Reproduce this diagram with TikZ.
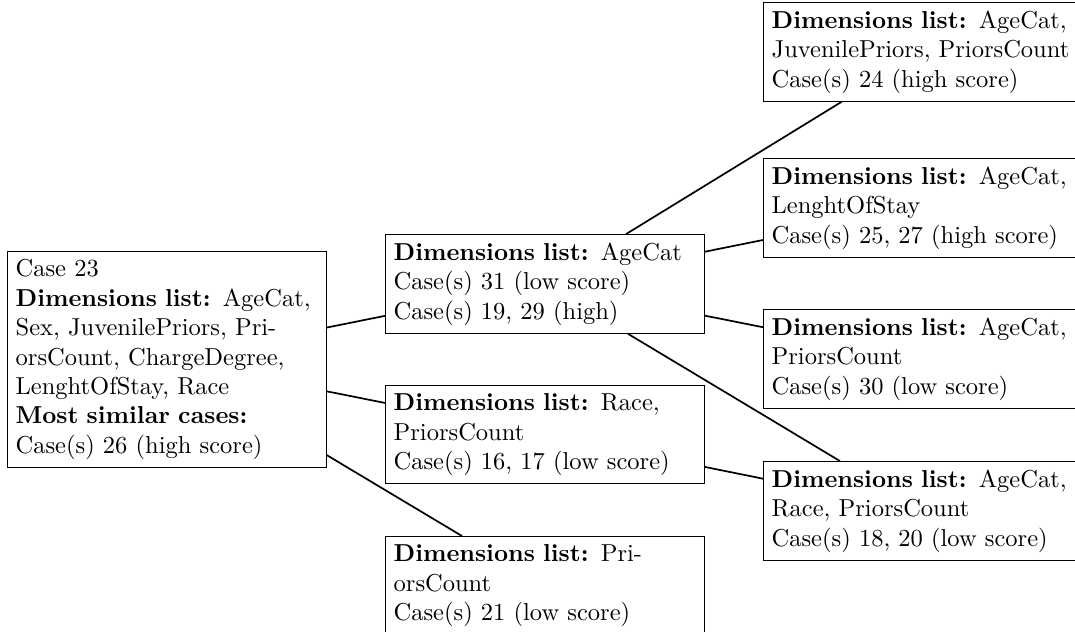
\documentclass[tikz,border=0pt]{standalone}
\begin{document}
\begin{tikzpicture}[x=0.40816pt, y=-0.40816pt,
  casebox/.style={draw, line width=0.4pt, fill=white, anchor=north west,
    text width=123.5pt, inner sep=3.33pt},
  link/.style={line width=0.7pt}]
\useasboundingbox (0,0) rectangle (1075,631);

% query case
\node[casebox] (root) at (7,251) {Case 23\\
  \textbf{Dimensions list:} AgeCat, Sex, JuvenilePriors, PriorsCount, ChargeDegree, LenghtOfStay, Race\\
  \textbf{Most similar cases:}\\
  Case(s) 26 (high score)};

% first level
\node[casebox] (m1) at (385,234) {\textbf{Dimensions list:} AgeCat\\
  Case(s) 31 (low score)\\
  Case(s) 19, 29 (high)};
\node[casebox] (m2) at (385,385) {\textbf{Dimensions list:} Race, PriorsCount\\
  Case(s) 16, 17 (low score)};
\node[casebox] (m3) at (385,536) {\textbf{Dimensions list:} PriorsCount\\
  Case(s) 21 (low score)};

% second level
\node[casebox] (r1) at (763,2) {\textbf{Dimensions list:} AgeCat, JuvenilePriors, PriorsCount\\
  Case(s) 24 (high score)};
\node[casebox] (r2) at (763,158) {\textbf{Dimensions list:} AgeCat, LenghtOfStay\\
  Case(s) 25, 27 (high score)};
\node[casebox] (r3) at (763,309) {\textbf{Dimensions list:} AgeCat, PriorsCount\\
  Case(s) 30 (low score)};
\node[casebox] (r4) at (763,461) {\textbf{Dimensions list:} AgeCat, Race, PriorsCount\\
  Case(s) 18, 20 (low score)};

% connections
\draw[link] (root) -- (m1);
\draw[link] (root) -- (m2);
\draw[link] (root) -- (m3);
\draw[link] (m1) -- (r1);
\draw[link] (m1) -- (r2);
\draw[link] (m1) -- (r3);
\draw[link] (m1) -- (r4);
\draw[link] (m2) -- (r4);
\end{tikzpicture}
\end{document}
